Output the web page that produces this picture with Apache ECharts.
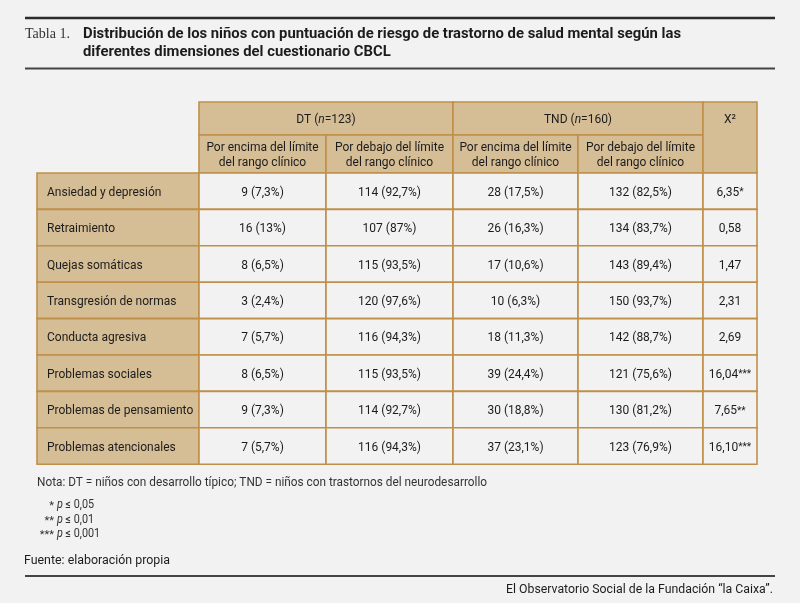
<!DOCTYPE html>
<html><head><meta charset="utf-8">
<script src="https://cdn.jsdelivr.net/npm/echarts@6/dist/echarts.min.js"></script>
<style>html,body{margin:0;padding:0;background:#f2f2f2;}#main{width:800px;height:603px;}</style>
</head><body><div id="main"></div>
<script>
// ---- Data ----
const dimensions = ['Ansiedad y depresión','Retraimiento','Quejas somáticas','Transgresión de normas','Conducta agresiva','Problemas sociales','Problemas de pensamiento','Problemas atencionales'];
const groups = ['DT','TND'];
const groupN = [123,160];
const subHeaders = ['Por encima del límite\ndel rango clínico','Por debajo del límite\ndel rango clínico'];
const dtAboveN = [9,16,8,3,7,8,9,7];
const dtAbovePct = [7.3,13,6.5,2.4,5.7,6.5,7.3,5.7];
const dtBelowN = [114,107,115,120,116,115,114,116];
const dtBelowPct = [92.7,87,93.5,97.6,94.3,93.5,92.7,94.3];
const tndAboveN = [28,26,17,10,18,39,30,37];
const tndAbovePct = [17.5,16.3,10.6,6.3,11.3,24.4,18.8,23.1];
const tndBelowN = [132,134,143,150,142,121,130,123];
const tndBelowPct = [82.5,83.7,89.4,93.7,88.7,75.6,81.2,76.9];
const chiSquare = [6.35,0.58,1.47,2.31,2.69,16.04,7.65,16.10];
const significance = ['*','','','','','***','**','***'];

// ---- Layout ----
const colWidths = [162,127,127,125,125,54];
const rowHeights = [33,38,36.4,36.4,36.4,36.4,36.4,36.4,36.4,36.4];
const colEdges = [0]; colWidths.forEach(w => colEdges.push(colEdges[colEdges.length-1] + w));
const rowEdges = [0]; rowHeights.forEach(h => rowEdges.push(rowEdges[rowEdges.length-1] + h));
const TAN = '#d5bd95', BORDER = '#c0904a', CELL = '#f2f2f2', INK = '#1c1c1c';
const FONT = 'Roboto';
function fmt(v){ return String(v).replace('.', ','); }

const cells = [];
groups.forEach((g, i) => {
  cells.push({c:1+2*i, r:0, cs:2, rs:1, fill:TAN, text: g + ' ({i|n}=' + groupN[i] + ')'});
  subHeaders.forEach((s, j) => cells.push({c:1+2*i+j, r:1, cs:1, rs:1, fill:TAN, text:s}));
});
cells.push({c:5, r:0, cs:1, rs:2, fill:TAN, text:'X²', textRow:0});
const valueCols = [[dtAboveN,dtAbovePct],[dtBelowN,dtBelowPct],[tndAboveN,tndAbovePct],[tndBelowN,tndBelowPct]];
dimensions.forEach((d, k) => {
  cells.push({c:0, r:k+2, cs:1, rs:1, fill:TAN, text:d, left:true});
  valueCols.forEach((vc, j) => {
    cells.push({c:1+j, r:k+2, cs:1, rs:1, fill:CELL, text: vc[0][k] + ' (' + fmt(vc[1][k]) + '%)'});
  });
  cells.push({c:5, r:k+2, cs:1, rs:1, fill:CELL, text: chiSquare[k].toFixed(2).replace('.', ',') + (significance[k] ? '{s|' + significance[k] + '}' : '')});
});

// ---- Text fitting helper ----
const mctx = document.createElement('canvas').getContext('2d');
function fitScale(text, font, target){ mctx.font = font; return target / mctx.measureText(text).width; }

const titleFont = 'bold 15px ' + FONT;
const title1 = 'Distribución de los niños con puntuación de riesgo de trastorno de salud mental según las';
const title2 = 'diferentes dimensiones del cuestionario CBCL';
const tScale = fitScale(title1, titleFont, 598);
const noteFont = '12px ' + FONT;
const noteText = 'Nota: DT = niños con desarrollo típico; TND = niños con trastornos del neurodesarrollo';
const nScale = fitScale(noteText, noteFont, 450);
const srcText = 'Fuente: elaboración propia';
const srcFont = '12.5px ' + FONT;
const sScale = fitScale(srcText, srcFont, 146);
const orgText = 'El Observatorio Social de la Fundación “la Caixa”.';
const oScale = fitScale(orgText, srcFont, 267);
const tablaFont = '14.5px "Liberation Serif"';
const tbScale = fitScale('Tabla 1.', tablaFont, 45);

const chart = echarts.init(document.getElementById('main'));
const option = {
  backgroundColor: '#f2f2f2',
  animation: false,
  grid: {left:37, top:102, width:colEdges[colEdges.length-1], height:rowEdges[rowEdges.length-1]},
  xAxis: {type:'value', min:0, max:colEdges[colEdges.length-1], show:false},
  yAxis: {type:'value', min:0, max:rowEdges[rowEdges.length-1], inverse:true, show:false},
  series: [{
    type:'custom',
    clip:false,
    data: cells.map(c => [colEdges[c.c], rowEdges[c.r]]),
    renderItem: function(params, api){
      const cell = cells[params.dataIndex];
      const p0 = api.coord([colEdges[cell.c], rowEdges[cell.r]]);
      const p1 = api.coord([colEdges[cell.c+cell.cs], rowEdges[cell.r+cell.rs]]);
      const x = Math.min(p0[0],p1[0]), y = Math.min(p0[1],p1[1]);
      const w = Math.abs(p1[0]-p0[0]), h = Math.abs(p1[1]-p0[1]);
      let ty = y + h/2;
      if (cell.textRow !== undefined) {
        const a = api.coord([0, rowEdges[cell.textRow]]), b = api.coord([0, rowEdges[cell.textRow+1]]);
        ty = (a[1]+b[1])/2;
      }
      return {
        type:'group',
        children:[
          {type:'rect', shape:{x:x, y:y, width:w, height:h}, style:{fill:cell.fill, stroke:BORDER, lineWidth:1.6}},
          {type:'text', style:{
            x: cell.left ? x + 10 : x + w/2, y: ty + 1.5,
            text: cell.text, align: cell.left ? 'left' : 'center', verticalAlign:'middle',
            fontFamily: FONT, fontSize: 12, fill: INK, lineHeight: 15,
            rich: {
              i: {fontStyle:'italic', fontFamily:FONT, fontSize:12, fill:INK},
              s: {fontFamily:FONT, fontSize:10, fill:INK}
            }
          }}
        ]
      };
    }
  }],
  graphic: [
    {type:'line', shape:{x1:25, y1:18, x2:775, y2:18}, style:{stroke:'#2b2b2b', lineWidth:2.5}},
    {type:'text', x:25, y:34, scaleX:tbScale, style:{text:'Tabla 1.', font:tablaFont, fill:'#333', align:'left', verticalAlign:'middle'}},
    {type:'text', x:83, y:34, scaleX:tScale, style:{text:title1, font:titleFont, fill:INK, align:'left', verticalAlign:'middle'}},
    {type:'text', x:83, y:52, scaleX:tScale, style:{text:title2, font:titleFont, fill:INK, align:'left', verticalAlign:'middle'}},
    {type:'line', shape:{x1:25, y1:68.5, x2:775, y2:68.5}, style:{stroke:'#444', lineWidth:2}},
    {type:'text', x:37, y:483, scaleX:nScale, style:{text:noteText, font:noteFont, fill:'#333', align:'left', verticalAlign:'middle'}},
    {type:'text', x:54, y:506, style:{text:'*', font:'11px '+FONT, fill:'#333', align:'right', verticalAlign:'middle'}},
    {type:'text', x:54, y:521, style:{text:'**', font:'11px '+FONT, fill:'#333', align:'right', verticalAlign:'middle'}},
    {type:'text', x:54, y:535, style:{text:'***', font:'11px '+FONT, fill:'#333', align:'right', verticalAlign:'middle'}},
    {type:'text', x:57, y:505, scaleX:0.9, style:{text:'{i|p} ≤ 0,05', fontFamily:FONT, fontSize:12, fill:'#333', align:'left', verticalAlign:'middle', rich:{i:{fontStyle:'italic', fontFamily:FONT, fontSize:12, fill:'#333'}}}},
    {type:'text', x:57, y:520, scaleX:0.9, style:{text:'{i|p} ≤ 0,01', fontFamily:FONT, fontSize:12, fill:'#333', align:'left', verticalAlign:'middle', rich:{i:{fontStyle:'italic', fontFamily:FONT, fontSize:12, fill:'#333'}}}},
    {type:'text', x:57, y:534, scaleX:0.9, style:{text:'{i|p} ≤ 0,001', fontFamily:FONT, fontSize:12, fill:'#333', align:'left', verticalAlign:'middle', rich:{i:{fontStyle:'italic', fontFamily:FONT, fontSize:12, fill:'#333'}}}},
    {type:'text', x:24, y:561, scaleX:sScale, style:{text:srcText, font:srcFont, fill:INK, align:'left', verticalAlign:'middle'}},
    {type:'line', shape:{x1:25, y1:576, x2:775, y2:576}, style:{stroke:'#444', lineWidth:2}},
    {type:'text', x:773, y:590, scaleX:oScale, style:{text:orgText, font:srcFont, fill:INK, align:'right', verticalAlign:'middle'}}
  ]
};
chart.setOption(option);
</script>
</body></html>
